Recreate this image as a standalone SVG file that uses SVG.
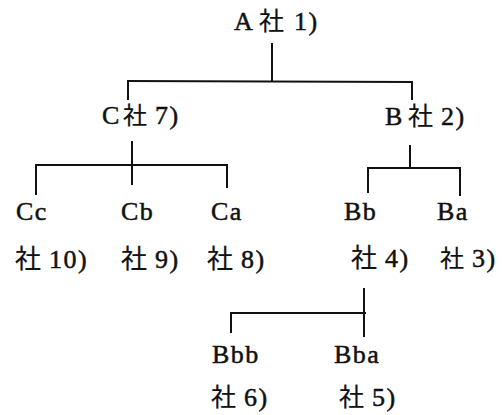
<svg xmlns="http://www.w3.org/2000/svg" width="502" height="415" viewBox="0 0 502 415">
<style>
.t{font-family:"Liberation Serif","Noto Sans CJK JP",serif;font-size:26px;letter-spacing:1.5px;fill:#111;stroke:#111;stroke-width:0.5px}
.k{font-family:"Noto Sans CJK JP",sans-serif;font-size:25px;letter-spacing:0;stroke-width:0.2px}
.c line{stroke:#111;stroke-width:2;fill:none}
</style>
<rect width="502" height="415" fill="#fff"/>
<g class="c" id="connectors">
<line x1="272" y1="43" x2="272" y2="81"/>
<line x1="127" y1="81" x2="413" y2="82"/>
<line x1="128" y1="80" x2="128" y2="100"/>
<line x1="412" y1="81" x2="412" y2="100"/>
<line x1="132" y1="141" x2="132" y2="185"/>
<line x1="35" y1="165" x2="228" y2="165"/>
<line x1="36" y1="164" x2="36" y2="195"/>
<line x1="227" y1="164" x2="227" y2="188"/>
<line x1="410" y1="145" x2="410" y2="168"/>
<line x1="367" y1="168" x2="461" y2="168"/>
<line x1="368" y1="167" x2="368" y2="193"/>
<line x1="460" y1="167" x2="460" y2="196"/>
<line x1="364" y1="288" x2="364" y2="337"/>
<line x1="230" y1="313" x2="366" y2="313"/>
<line x1="231" y1="312" x2="231" y2="333"/>
</g>
<g id="nodeA"><text class="t" x="234" y="30">A<tspan class="k" x="259">社</tspan><tspan x="286"> 1)</tspan></text></g>
<g id="nodeC"><text class="t" x="102" y="124">C<tspan class="k" x="123" style="font-size:24px">社</tspan><tspan x="147"> 7)</tspan></text></g>
<g id="nodeB"><text class="t" x="385" y="125">B<tspan class="k" x="408">社</tspan><tspan x="433"> 2)</tspan></text></g>
<g id="nodeCc"><text class="t" x="16" y="220">Cc</text><text class="t" y="268"><tspan class="k" x="15" style="font-size:26px">社</tspan><tspan x="41"> 10)</tspan></text></g>
<g id="nodeCb"><text class="t" x="121" y="220">Cb</text><text class="t" y="268"><tspan class="k" x="121" style="font-size:26px">社</tspan><tspan x="147"> 9)</tspan></text></g>
<g id="nodeCa"><text class="t" x="211" y="220">Ca</text><text class="t" y="268"><tspan class="k" x="207" style="font-size:26px">社</tspan><tspan x="233"> 8)</tspan></text></g>
<g id="nodeBb"><text class="t" x="344" y="220">Bb</text><text class="t" y="267"><tspan class="k" x="351" style="font-size:26px">社</tspan><tspan x="377"> 4)</tspan></text></g>
<g id="nodeBa"><text class="t" x="437" y="220">Ba</text><text class="t" y="267"><tspan class="k" x="440" style="font-size:24px">社</tspan><tspan x="464"> 3)</tspan></text></g>
<g id="nodeBbb"><text class="t" x="212" y="363">Bbb</text><text class="t" y="406"><tspan class="k" x="211">社</tspan><tspan x="236"> 6)</tspan></text></g>
<g id="nodeBba"><text class="t" x="334" y="363">Bba</text><text class="t" y="406"><tspan class="k" x="339">社</tspan><tspan x="364"> 5)</tspan></text></g>
</svg>
